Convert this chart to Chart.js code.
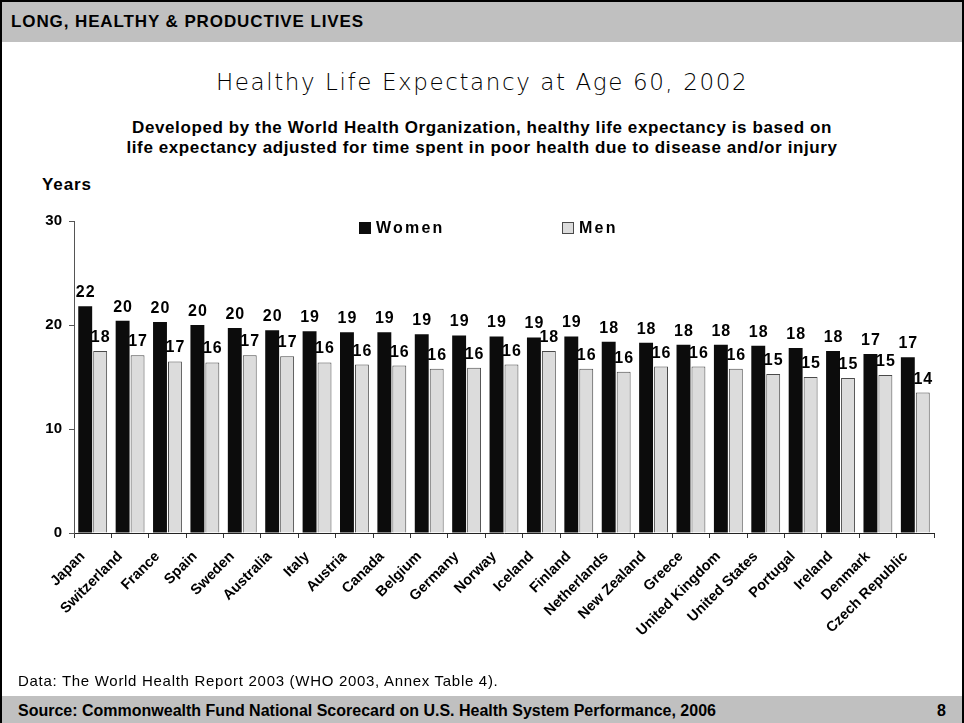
<!DOCTYPE html>
<html><head><meta charset="utf-8">
<script src="https://cdn.jsdelivr.net/npm/chart.js@4/dist/chart.umd.min.js"></script>
<style>
html,body{margin:0;padding:0;background:#fff;}
#page{position:relative;width:964px;height:723px;overflow:hidden;font-family:Arial,"Liberation Sans",sans-serif;color:#000;}
#frame{position:absolute;left:0;top:0;width:964px;height:723px;box-sizing:border-box;border:2px solid #000;border-bottom:none;pointer-events:none;z-index:5;}
#hdr{position:absolute;left:0;top:0;width:964px;height:42px;background:#c0c0c0;}
#hdr span{position:absolute;left:11px;top:13px;font-weight:bold;font-size:17px;letter-spacing:0.9px;line-height:18px;white-space:nowrap;}
#title{position:absolute;left:0;top:70px;width:964px;text-align:center;font-family:"DejaVu Sans",sans-serif;font-weight:200;font-size:23px;letter-spacing:1.6px;line-height:24px;white-space:nowrap;}
#sub{position:absolute;left:0;top:118px;width:964px;text-align:center;font-weight:bold;font-size:17px;letter-spacing:0.6px;line-height:20px;white-space:nowrap;}
#years{position:absolute;left:42px;top:176px;font-weight:bold;font-size:17px;letter-spacing:0.9px;line-height:18px;}
#note{position:absolute;left:18px;top:673px;font-size:15px;letter-spacing:0.7px;line-height:16px;white-space:nowrap;}
#ftr{position:absolute;left:0;top:696px;width:964px;height:27px;background:#c0c0c0;}
#ftr .src{position:absolute;left:18px;top:6px;font-weight:bold;font-size:16px;line-height:17px;white-space:nowrap;}
#ftr .pg{position:absolute;right:18px;top:6px;font-weight:bold;font-size:16px;line-height:17px;}
#cv{position:absolute;left:0;top:200px;}
</style></head>
<body>
<div id="page">
  <div id="hdr"><span>LONG, HEALTHY &amp; PRODUCTIVE LIVES</span></div>
  <div id="title">Healthy Life Expectancy at Age 60, 2002</div>
  <div id="sub">Developed by the World Health Organization, healthy life expectancy is based on<br>life expectancy adjusted for time spent in poor health due to disease and/or injury</div>
  <div id="years">Years</div>
  <canvas id="cv" width="964" height="480" style="width:964px;height:480px"></canvas>
  <div id="note">Data: The World Health Report 2003 (WHO 2003, Annex Table 4).</div>
  <div id="ftr"><span class="src">Source: Commonwealth Fund National Scorecard on U.S. Health System Performance, 2006</span><span class="pg">8</span></div>
  <div id="frame"></div>
</div>
<script>
const categories = ["Japan","Switzerland","France","Spain","Sweden","Australia","Italy","Austria","Canada","Belgium","Germany","Norway","Iceland","Finland","Netherlands","New Zealand","Greece","United Kingdom","United States","Portugal","Ireland","Denmark","Czech Republic"];
const women = [21.8,20.4,20.3,20.0,19.7,19.5,19.4,19.3,19.3,19.1,19.0,18.9,18.8,18.9,18.4,18.3,18.1,18.1,18.0,17.8,17.5,17.2,16.9];
const men   = [17.5,17.1,16.5,16.4,17.1,17.0,16.4,16.2,16.1,15.8,15.9,16.2,17.5,15.8,15.5,16.0,16.0,15.8,15.3,15.0,14.9,15.2,13.5];
const seriesNames = ["Women","Men"];
const yTicks = [0,10,20,30];

const valueLabels = {
  id:'valueLabels',
  afterDatasetsDraw(chart){
    const ctx = chart.ctx;
    ctx.save();
    ctx.font = 'bold 16px Arial, "Liberation Sans", sans-serif';
    ctx.fillStyle = '#000';
    ctx.textAlign = 'center';
    ctx.textBaseline = 'alphabetic';
    try{ ctx.letterSpacing = '1px'; }catch(e){}
    chart.data.datasets.forEach((ds,di)=>{
      chart.getDatasetMeta(di).data.forEach((bar,i)=>{
        ctx.fillText(String(Math.round(ds.data[i])), bar.x + 0.5, bar.y - 9);
      });
    });
    ctx.restore();
  }
};

const customLegend = {
  id:'customLegend',
  afterDraw(chart){
    const ctx = chart.ctx, a = chart.chartArea;
    ctx.save();
    ctx.font = 'bold 16px Arial, "Liberation Sans", sans-serif';
    try{ ctx.letterSpacing = '2.2px'; }catch(e){}
    ctx.textBaseline = 'middle';
    ctx.textAlign = 'left';
    const starts = [a.left + 285, a.left + 488];
    const cy = a.top + 7;
    chart.data.datasets.forEach((ds,i)=>{
      const x = starts[i];
      ctx.fillStyle = ds.backgroundColor;
      ctx.fillRect(x, cy-6, 12, 12);
      if (ds.borderWidth){ ctx.strokeStyle = ds.borderColor; ctx.lineWidth = 1; ctx.strokeRect(x+0.5, cy-5.5, 11, 11); }
      ctx.fillStyle = '#000';
      ctx.fillText(ds.label, x + 17, cy + 1);
    });
    ctx.restore();
  }
};

new Chart(document.getElementById('cv'), {
  type:'bar',
  data:{
    labels: categories,
    datasets:[
      {label:seriesNames[0], data:women, backgroundColor:'#0c0c0c', borderColor:'#0c0c0c', borderWidth:0, categoryPercentage:0.8, barPercentage:0.93},
      {label:seriesNames[1], data:men, backgroundColor:'#dcdcdc', borderColor:'#4a4a4a', borderWidth:1, categoryPercentage:0.8, barPercentage:0.93}
    ]
  },
  options:{
    responsive:false,
    animation:false,
    devicePixelRatio:1,
    layout:{padding:{left:0,right:30,top:21,bottom:0}},
    plugins:{legend:{display:false}, title:{display:false}, tooltip:{enabled:false}},
    scales:{
      x:{
        afterFit(s){ s.height = 147; },
        grid:{display:true, offset:true, drawOnChartArea:false, drawTicks:true, tickLength:5, color:'#333'},
        border:{display:true, color:'#222', width:1},
        ticks:{color:'#000', font:{family:'Arial, "Liberation Sans", sans-serif', weight:'bold', size:14.5}, maxRotation:45, minRotation:45, autoSkip:false, padding:10, labelOffset:-10}
      },
      y:{
        min:0, max:30,
        afterFit(s){ s.width = 74; },
        afterBuildTicks(s){ s.ticks = yTicks.map(v=>({value:v})); },
        grid:{display:true, drawOnChartArea:false, drawTicks:true, tickLength:5, color:'#555'},
        border:{display:true, color:'#555', width:1},
        ticks:{color:'#000', font:{family:'Arial, "Liberation Sans", sans-serif', weight:'bold', size:15}, padding:7}
      }
    }
  },
  plugins:[valueLabels, customLegend]
});
</script>
</body></html>
